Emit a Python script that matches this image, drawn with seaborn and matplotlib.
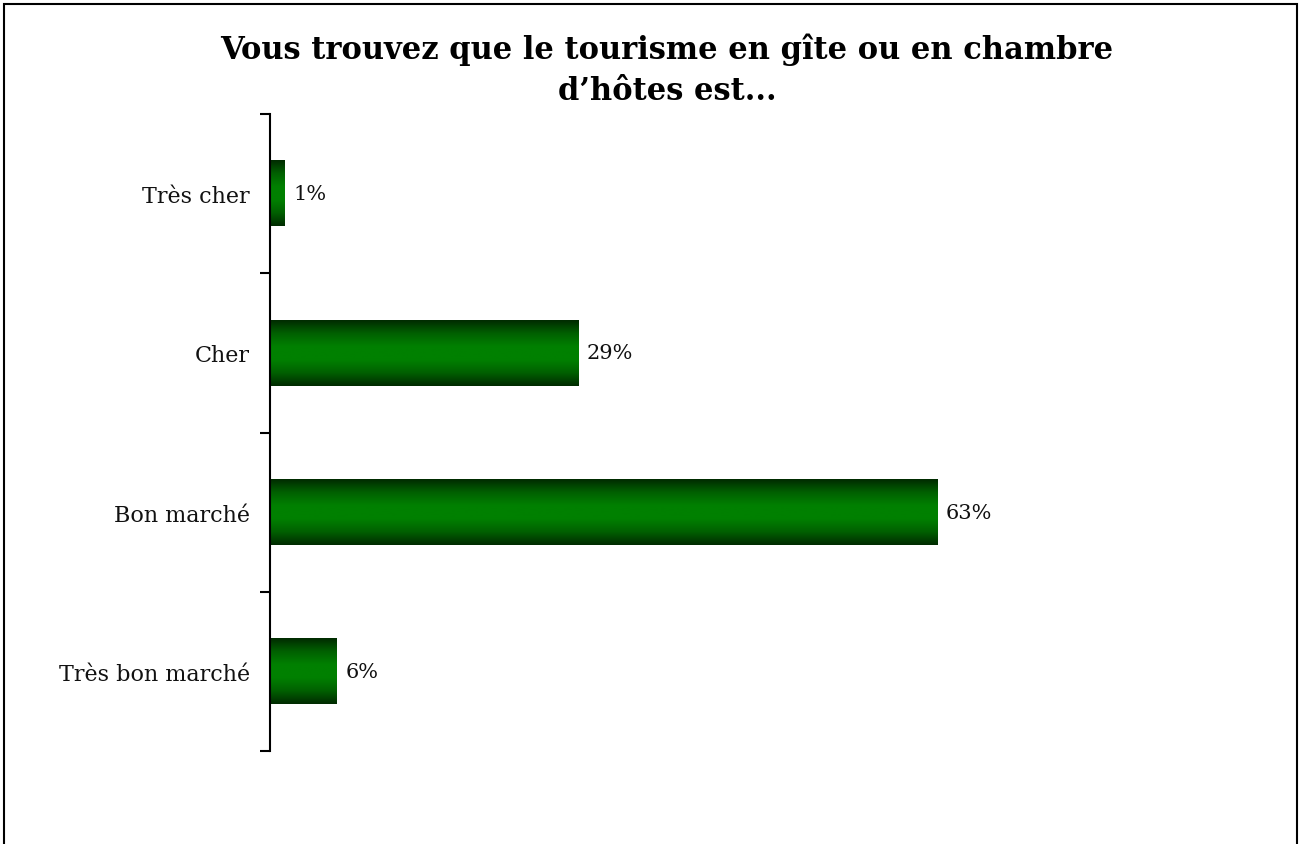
import numpy as np
import pandas as pd
import matplotlib.pyplot as plt
import seaborn as sns
from matplotlib.colors import LinearSegmentedColormap
from matplotlib.patches import Rectangle

# data
categories = ['Très cher', 'Cher', 'Bon marché', 'Très bon marché']
values = [1.4, 29.1, 63.0, 6.3]
labels = ['1%', '29%', '63%', '6%']

df = pd.DataFrame({'categorie': categories, 'pct': values})

sns.set_style('white')
plt.rcParams['font.family'] = ['DejaVu Serif']
plt.rcParams['text.color'] = 'black'

fig = plt.figure(figsize=(13.01, 8.45), dpi=100)
ax = fig.add_axes([270 / 1301, 1 - 752 / 845, 900 / 1301, 637 / 845])

sns.barplot(data=df, x='pct', y='categorie', orient='h', color='#008000',
            width=0.41, ax=ax)

# vertical gradient on each bar: dark edges, bright green centre
cmap = LinearSegmentedColormap.from_list(
    'g', ['#002a00', '#006000', '#008000', '#008000', '#006000', '#002a00'])
grad = np.linspace(0, 1, 256).reshape(-1, 1)
for bar in ax.patches:
    x0, y0 = bar.get_x(), bar.get_y()
    w, h = bar.get_width(), bar.get_height()
    ax.imshow(grad, cmap=cmap, aspect='auto', extent=(x0, x0 + w, y0 + h, y0),
              interpolation='bicubic', zorder=bar.get_zorder() + 0.1)
    bar.set_edgecolor('none')

for bar, lab in zip(ax.patches, labels):
    ax.text(bar.get_width() + 0.8, bar.get_y() + bar.get_height() / 2, lab,
            va='center', ha='left', fontsize=15, color='#111111')

ax.set_xlim(0, 85)
ax.set_ylim(3.5, -0.5)
ax.set_xlabel('')
ax.set_ylabel('')
ax.set_xticks([])
sns.despine(ax=ax, top=True, right=True, bottom=True)
ax.spines['left'].set_color('black')
ax.spines['left'].set_linewidth(1.5)

ax.set_yticks(range(len(categories)))
ax.set_yticklabels(categories, fontsize=16, color='#111111')
ax.set_yticks(np.arange(-0.5, len(categories)), minor=True)
ax.tick_params(axis='y', which='major', length=0, pad=14.5)
ax.tick_params(axis='y', which='minor', length=7, width=1.5, color='black', left=True)

fig.text(667 / 1301, 1 - 50 / 845, 'Vous trouvez que le tourisme en gîte ou en chambre',
         ha='center', va='center', fontsize=22, fontweight='heavy', color='black')
fig.text(667 / 1301, 1 - 92 / 845, 'd\u2019hôtes est...',
         ha='center', va='center', fontsize=22, fontweight='heavy', color='black')

# outer frame (bottom edge falls outside the image)
fig.patches.append(Rectangle((4 / 1301, -0.05), 1293 / 1301, 1.05 - 5 / 845,
                             transform=fig.transFigure, fill=False,
                             edgecolor='black', linewidth=1.5))

plt.savefig('out.png', dpi=100)
plt.close()
